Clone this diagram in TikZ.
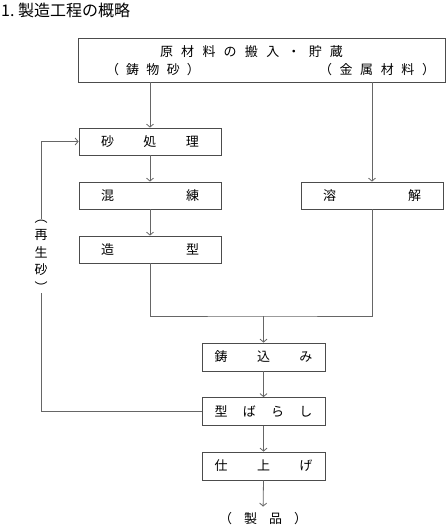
\documentclass[tikz,border=0pt]{standalone}
\usepackage{fontspec}
\setmainfont{Noto Sans CJK JP}
\usetikzlibrary{arrows.meta}

\newcommand{\spreadtext}[2]{\makebox[#1][s]{#2}}

\tikzset{
  procbox/.style={draw=black!70, line width=0.8pt, minimum width=142pt,
    minimum height=27pt, inner sep=0pt, font=\fontsize{13}{15}\selectfont},
  flow/.style={draw=black!60, line width=0.8pt},
  tip/.style={-{Straight Barb[length=3pt,width=7pt]}},
}

\begin{document}
\begin{tikzpicture}[x=1pt,y=-1pt]
		\useasboundingbox (0,0) rectangle (446,526);
		%title
		\node[anchor=west, inner sep=0pt, font=\fontsize{16}{18}\selectfont] (title) at (1,10.5) {1.~製造工程の概略};
		%raw materials
		\node[procbox, minimum width=367pt, minimum height=44pt] (raw) at (261.5,60) {};
		\node[inner sep=0pt, font=\fontsize{13}{15}\selectfont] (rawtitle) at (251.5,52) {\spreadtext{183pt}{原\hfill 材\hfill 料\hfill の\hfill 搬\hfill 入\hfill ・\hfill 貯\hfill 蔵}};
		\node[inner sep=0pt, font=\fontsize{13}{15}\selectfont] (sandsrc) at (153,70) {\spreadtext{94pt}{（\hfill 鋳\hfill 物\hfill 砂\hfill ）}};
		\node[inner sep=0pt, font=\fontsize{13}{15}\selectfont] (metalsrc) at (377,70) {\spreadtext{116pt}{（\hfill 金\hfill 属\hfill 材\hfill 料\hfill ）}};
		%left column
		\node[procbox] (sand) at (150,141.5) {\spreadtext{98pt}{砂\hfill 処\hfill 理}};
		\node[procbox] (knead) at (150,195.5) {\spreadtext{98pt}{混\hfill 練}};
		\node[procbox] (mold) at (150,249.5) {\spreadtext{98pt}{造\hfill 型}};
		%right column
		\node[procbox] (melt) at (372,195.5) {\spreadtext{98pt}{溶\hfill 解}};
		%center column
		\node[procbox, minimum width=123pt, minimum height=28pt] (pour) at (263.5,357) {\spreadtext{98pt}{鋳\hfill 込\hfill み}};
		\node[procbox, minimum width=123pt, minimum height=28pt] (shake) at (263.5,411.5) {\spreadtext{98pt}{型\hfill ば\hfill ら\hfill し}};
		\node[procbox, minimum width=123pt, minimum height=28pt] (finish) at (263.5,466) {\spreadtext{98pt}{仕\hfill 上\hfill げ}};
		\node[inner sep=0pt, font=\fontsize{13}{15}\selectfont] (product) at (263,519) {\spreadtext{88pt}{（\hfill 製\hfill 品\hfill ）}};
		%recycled sand label
		\node[inner sep=1pt, align=center, font=\fontsize{13}{17.5}\selectfont] (regen) at (41,256) {︵\\再\\生\\砂\\︶};
		\coordinate (merge) at (263.5,316);
		%draw arrows
		\draw[flow, tip] (sand.north |- raw.south) -- (sand.north);
		\draw[flow, tip] (melt.north |- raw.south) -- (melt.north);
		\draw[flow, tip] (sand) -- (knead);
		\draw[flow, tip] (knead) -- (mold);
		\draw[flow] (mold.south) |- (merge) -| (melt.south);
		\draw[flow, tip] (merge) -- (pour.north);
		\draw[flow, tip] (pour) -- (shake);
		\draw[flow, tip] (shake) -- (finish);
		\draw[flow, tip, shorten >=6pt] (finish.south) -- (product.north);
		\draw[flow] (shake.west) -| (regen.south);
		\draw[flow, tip] (regen.north) |- (sand.west);
	\end{tikzpicture}
\end{document}
